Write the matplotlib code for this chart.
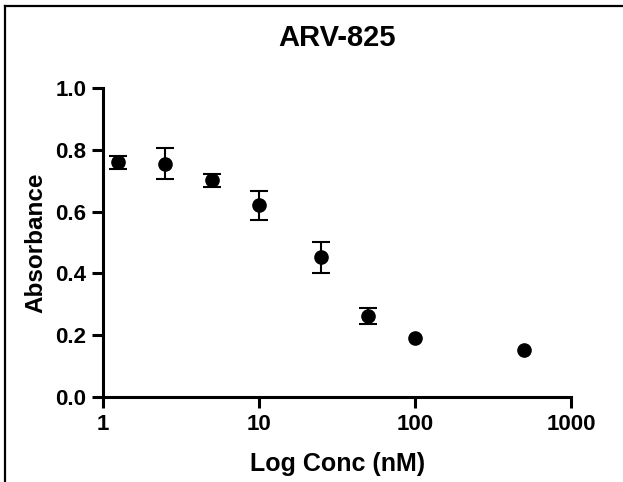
import numpy as np
import matplotlib
matplotlib.use('Agg')
import matplotlib.pyplot as plt
from matplotlib.lines import Line2D
from matplotlib.ticker import FixedLocator, NullLocator

plt.rcParams['font.family'] = ['Liberation Sans', 'DejaVu Sans']
plt.rcParams['font.weight'] = 'bold'

# ARV-825 dose response
conc = [1.25, 2.5, 5, 10, 25, 50, 100, 500]
absorbance = [0.760, 0.755, 0.702, 0.620, 0.452, 0.261, 0.191, 0.153]
sd = [0.021, 0.050, 0.021, 0.048, 0.050, 0.026, 0.0, 0.0]

x_ticks = [1, 10, 100, 1000]
x_tick_labels = ['1', '10', '100', '1000']
y_ticks = [0.0, 0.2, 0.4, 0.6, 0.8, 1.0]

W, H = 623, 482
fig = plt.figure(figsize=(W / 100, H / 100), dpi=100)
ax = fig.add_axes([103 / W, 1 - 397 / H, (571 - 103) / W, (397 - 88) / H])

# error bars only where there is a spread
has_err = [i for i, e in enumerate(sd) if e > 0]
ax.errorbar([conc[i] for i in has_err], [absorbance[i] for i in has_err],
            yerr=[sd[i] for i in has_err], fmt='none', ecolor='black',
            elinewidth=1.5, capsize=6.5, capthick=1.5, clip_on=False)
ax.plot(conc, absorbance, 'o', color='black', ms=9.5, clip_on=False)

ax.set_xscale('log')
ax.set_xlim(1, 1000)
ax.set_ylim(0, 1.0)
ax.xaxis.set_major_locator(FixedLocator(x_ticks))
ax.xaxis.set_minor_locator(NullLocator())
ax.set_xticklabels(x_tick_labels)
ax.set_yticks(y_ticks)
ax.set_yticklabels(['%.1f' % v for v in y_ticks])

for s in ['top', 'right']:
    ax.spines[s].set_visible(False)
for s in ['left', 'bottom']:
    ax.spines[s].set_linewidth(2.2)
ax.tick_params(width=2.2, length=8, labelsize=16, pad=4)
for lab in ax.get_xticklabels() + ax.get_yticklabels():
    lab.set_fontweight('bold')

ax.set_ylabel('Absorbance', fontsize=17.5, fontweight='bold', labelpad=6)
fig.text(337.5 / W, 1 - 471.5 / H, 'Log Conc (nM)', ha='center', va='baseline',
         fontsize=18, fontweight='bold')
fig.text(337.5 / W, 1 - 46 / H, 'ARV-825', ha='center', va='baseline',
         fontsize=21, fontweight='bold')

# outer border (left and top edges)
fig.add_artist(Line2D([5 / W, 5 / W], [0, 1 - 6 / H], color='black', lw=1.6,
                      transform=fig.transFigure))
fig.add_artist(Line2D([5 / W, 1], [1 - 6 / H, 1 - 6 / H], color='black', lw=1.6,
                      transform=fig.transFigure))

fig.savefig('out.png', dpi=100)
